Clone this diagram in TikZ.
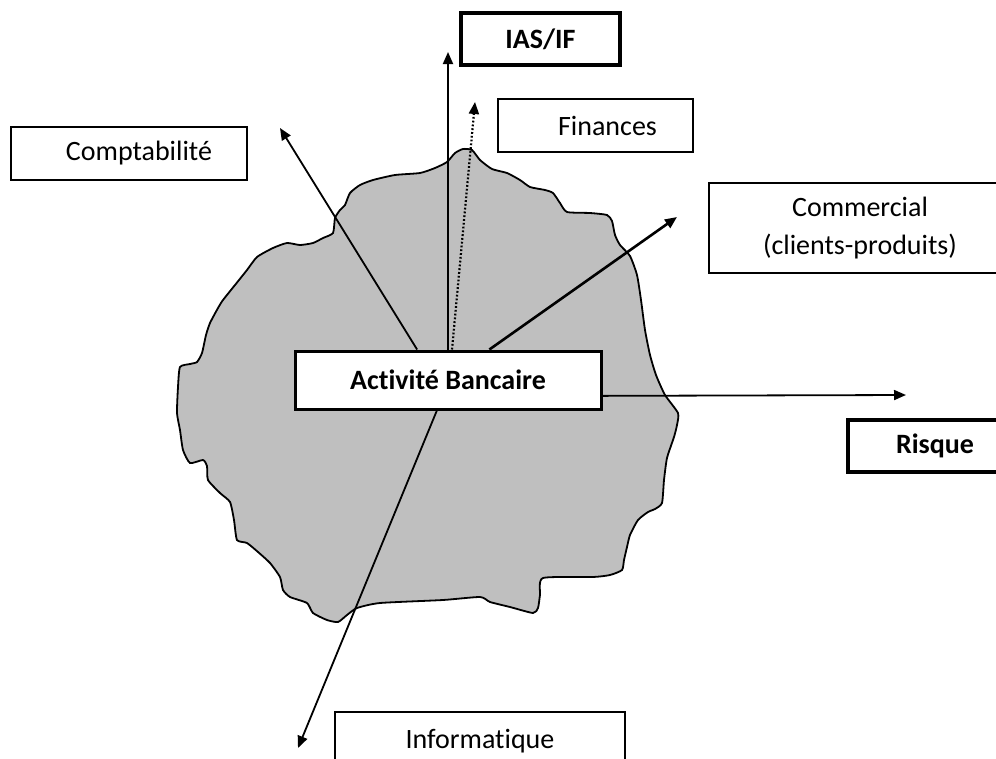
\documentclass[tikz,border=0pt]{standalone}
\usepackage{fontspec}
\setmainfont{Carlito}[Ligatures=NoCommon]
\usetikzlibrary{arrows.meta, calc}
\tikzset{%
    edge/.style={%
        -{Triangle[length=12pt, width=10pt]},
        line width=1.8pt,
    },
    heavyedge/.style={%
        edge,
        line width=2.6pt,
    },
    dottededge/.style={%
        edge,
        dotted,
        line width=2.2pt,
    },
    blob/.style={%
        fill=black!25,
        draw=black,
        line width=1.8pt,
    },
    topic/.style={%
        rectangle,
        fill=white,
        draw=black, line width=2pt,
        inner sep=0pt,
        font=\fontsize{28}{38}\selectfont,
        align=center,
    },
    keytopic/.style={%
        topic,
        line width=3.6pt,
        font=\fontsize{28}{38}\selectfont\bfseries,
    },
    core/.style={%
        topic,
        line width=3pt,
        font=\fontsize{28}{38}\selectfont\bfseries,
    },
}

\begin{document}
\begin{tikzpicture}[x=1pt, y=-1pt]
	\useasboundingbox (0, 0) rectangle (996, 758);

	\draw[blob] plot[smooth cycle, tension=0.35] coordinates {
		(463,149) (472,150) (480,160) (492,169) (507,173) (520,180) (530,187)
		(545,190) (553,193) (560,203) (567,212) (590,213) (607,215) (612,221)
		(615,235) (620,245) (630,256) (637,275) (641,300) (645,330) (650,355)
		(656,375) (665,395) (678,413) (677,425) (674,437) (667,458) (664,480)
		(662,503) (655,509) (648,512) (638,520) (630,535) (627,547) (624,560)
		(622,570) (610,575) (593,577) (543,578) (540,595) (538,608) (533,613)
		(510,607) (490,602) (480,597) (443,600) (380,603) (357,608) (347,615)
		(338,622) (327,620) (313,613) (307,603) (290,597) (283,590) (280,577)
		(270,563) (258,552) (247,543) (237,540) (234,520) (230,502) (220,493)
		(208,480) (207,466) (203,460) (190,463) (183,450) (180,430) (177,413)
		(178,387) (180,367) (190,364) (197,362) (202,353) (206,335) (210,323)
		(218,308) (223,300) (235,285) (247,270) (257,257) (273,248) (287,243)
		(300,245) (313,243) (323,238) (333,233) (335,218) (340,210) (345,205)
		(350,193) (360,185) (373,180) (395,175) (420,173) (435,168) (447,162)
		(455,153)
	};

	\node [core, minimum width=306, minimum height=58] at (448, 380) (bank) {Activité Bancaire};

	\node [keytopic, minimum width=159, minimum height=52] at (540.5, 39) (ias) {IAS/IF};
	\node [topic, minimum width=195, minimum height=53] at (595.5, 125.5) (finances) {\hspace*{24pt}Finances};
	\node [topic, minimum width=236, minimum height=53] at (129, 153.5) (compta) {\hspace*{20pt}Comptabilité};
	\node [topic, minimum width=302, minimum height=90] at (860, 228) (commercial) {Commercial\\(clients-produits)};
	\node [keytopic, minimum width=174, minimum height=52] at (935, 446) (risque) {Risque};
	\node [topic, minimum width=290, minimum height=58] at (480, 741) (info) {Informatique};

	\coordinate (tip_ias) at (448, 52);
	\coordinate (tip_finances) at (475, 102);
	\coordinate (tip_compta) at (280, 128);
	\coordinate (tip_commercial) at (677, 217);
	\coordinate (tip_risque) at (906, 395);
	\coordinate (tip_info) at (298, 748);

	\draw[edge] (bank.north) -- (tip_ias);
	\draw[dottededge] ($(bank.north west)!0.513!(bank.north east)$) -- (tip_finances);
	\draw[edge] ($(bank.north west)!0.40!(bank.north east)$) -- (tip_compta);
	\draw[heavyedge] ($(bank.north west)!0.634!(bank.north east)$) -- (tip_commercial);
	\draw[edge] ($(bank.north east)!0.76!(bank.south east)$) -- (tip_risque);
	\draw[edge] ($(bank.south west)!0.464!(bank.south east)$) -- (tip_info);
\end{tikzpicture}
\end{document}
